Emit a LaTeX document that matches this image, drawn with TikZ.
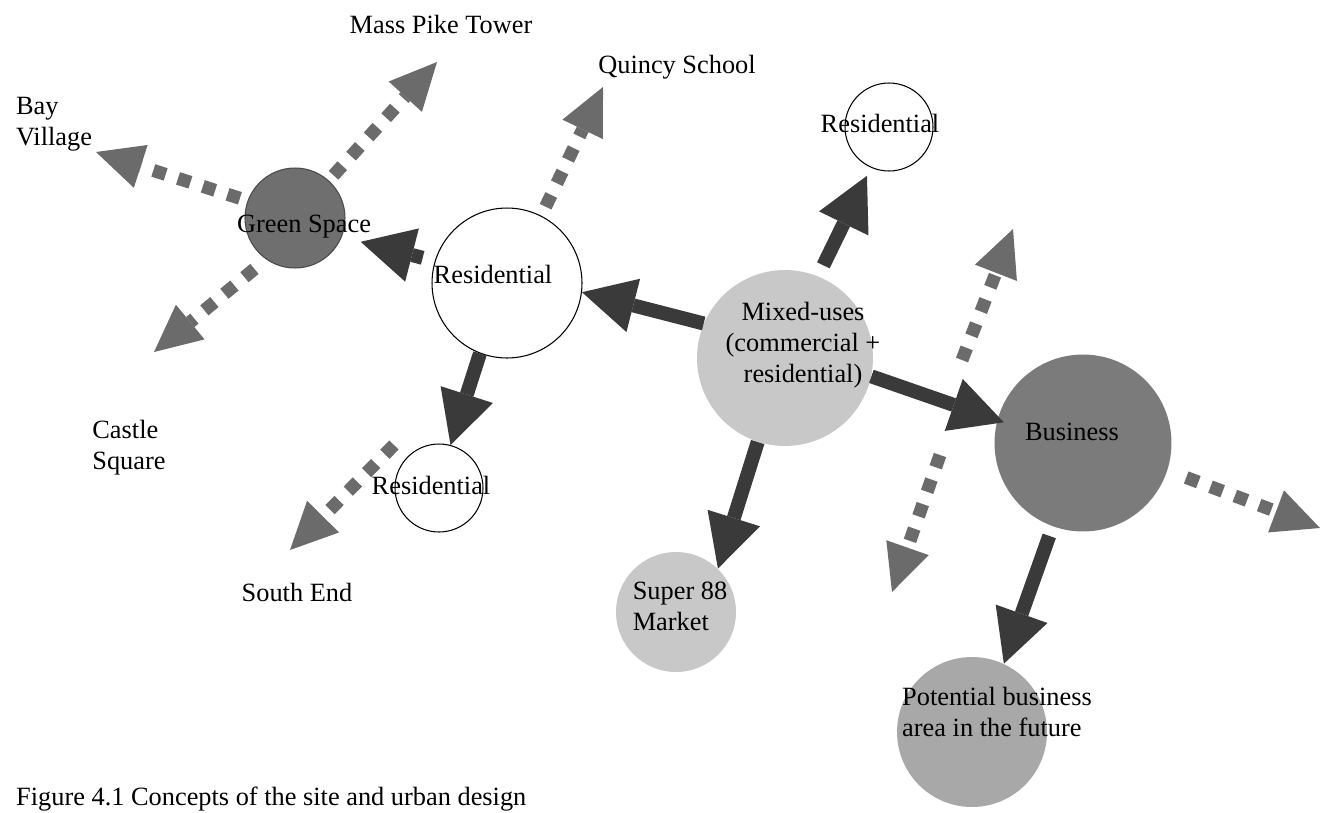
\documentclass[tikz,border=0pt]{standalone}
\usepackage{fontspec}
\setmainfont{Liberation Serif}
\usetikzlibrary{arrows.meta}
\definecolor{flowgray}{HTML}{3A3A3A}
\definecolor{linkgray}{HTML}{6B6B6B}
\definecolor{greenfill}{HTML}{6F6F6F}
\definecolor{greenedge}{HTML}{4A4A4A}
\definecolor{bizfill}{HTML}{7B7B7B}
\definecolor{lightfill}{HTML}{C8C8C8}
\definecolor{futurefill}{HTML}{A8A8A8}
\begin{document}
\begin{tikzpicture}[x=0.02cm, y=-0.02cm,
  every node/.style={font=\fontsize{15pt}{17.5pt}\selectfont},
  place/.style={circle, inner sep=0pt},
  home/.style={place, draw=black, line width=0.6pt, fill=white},
  flow/.style={draw=flowgray, line width=0.28cm,
    -{Triangle[length=1.06cm, width=1.1cm, line width=0pt]}},
  link/.style={draw=linkgray, line width=0.26cm, dash pattern=on 0.26cm off 0.26cm,
    -{Triangle[length=0.94cm, width=0.9cm, line width=0pt]}}]
  \useasboundingbox (0,0) rectangle (1325,812);
  \node[place, fill=greenfill, draw=greenedge, line width=0.6pt, minimum size=2cm] (green) at (295,218) {};
  \node[home, minimum size=3cm] (resA) at (507,283) {};
  \node[home, minimum size=1.76cm] (resC) at (889,127) {};
  \node[home, minimum size=1.76cm] (resB) at (439,488) {};
  \node[place, fill=lightfill, minimum size=3.52cm] (mix) at (785,358) {};
  \node[place, fill=bizfill, minimum size=3.54cm] (business) at (1083,443) {};
  \node[place, fill=lightfill, minimum size=2.4cm] (super) at (676,612) {};
  \node[place, fill=futurefill, minimum size=3cm] (potential) at (972,732) {};
  \coordinate (toMass) at (437,62);
  \coordinate (toBay) at (96,152);
  \coordinate (toCastle) at (154,352);
  \coordinate (toQuincy) at (603,87);
  \coordinate (resBout) at (394,445);
  \coordinate (toSouth) at (290,550);
  \coordinate (toEast) at (1320,528);
  \coordinate (upFrom) at (962,360);
  \coordinate (upTo) at (1013,229);
  \coordinate (downFrom) at (940,455);
  \coordinate (downTo) at (892,592);
  \draw[link, shorten <=0.14cm] (green.48) -- (toMass);
  \draw[link, shorten <=0.16cm] (green.160) -- (toBay);
  \draw[link, shorten <=0.3cm] (green.-125) -- (toCastle);
  \draw[link, shorten <=0.2cm] (resA.63) -- (toQuincy);
  \draw[link] (resBout) -- (toSouth);
  \draw[link, shorten <=0.4cm] (business.-18) -- (toEast);
  \draw[link] (upFrom) -- (upTo);
  \draw[link] (downFrom) -- (downTo);
  \draw[flow] (mix.157) -- (resA.-7);
  \draw[flow, shorten <=0.25cm, shorten >=0.39cm] (resA.163) -- (green.-22);
  \draw[flow, shorten <=0.24cm, shorten >=0.18cm] (mix.68) -- (resC.-114);
  \draw[flow, shorten >=-0.14cm] (mix.-12) -- (business.165);
  \draw[flow] (mix.-108) -- (super.46);
  \draw[flow] (resA.-111) -- (resB.75);
  \draw[flow, shorten <=0.2cm] (business.-110) -- (potential.65);
  \node (massLabel) at (441,24) {Mass Pike Tower};
  \node[align=left] (bayLabel) at (54,124) {Bay\\Village};
  \node (quincyLabel) at (677,67) {Quincy School};
  \node[align=left] (castleLabel) at (129,448) {Castle\\Square};
  \node (southLabel) at (297,592) {South End};
  \node (greenLabel) at (304,227) {Green Space};
  \node (resALabel) at (493,274) {Residential};
  \node (resCLabel) at (880,123) {Residential};
  \node (resBLabel) at (431,485) {Residential};
  \node[align=center] (mixLabel) at (803,345) {Mixed-uses\\(commercial +\\residential)};
  \node (businessLabel) at (1072,432) {Business};
  \node[align=left] (superLabel) at (680,606) {Super 88\\Market};
  \node[align=left] (potentialLabel) at (997,712) {Potential business\\area in the future};
  \node[anchor=base west] (caption) at (10,805) {Figure 4.1 Concepts of the site and urban design};
\end{tikzpicture}
\end{document}
